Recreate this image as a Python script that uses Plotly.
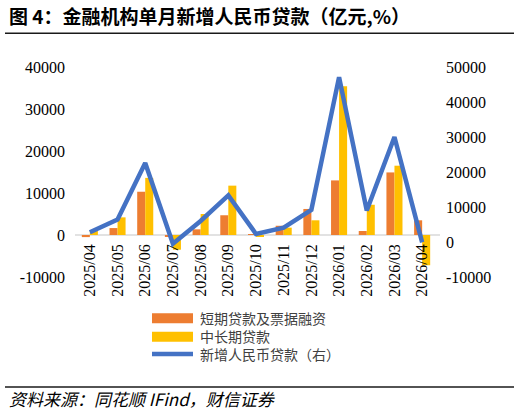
import plotly.graph_objects as go

months = ["2025/04", "2025/05", "2025/06", "2025/07", "2025/08", "2025/09", "2025/10",
          "2025/11", "2025/12", "2026/01", "2026/02", "2026/03", "2026/04"]
short_term = [-500, 1650, 10300, -400, 1350, 4700, 100, 2200, 6200, 13000, 950, 14900, 3500]
mid_long = [1000, 4200, 13600, -3500, 5000, 11750, -300, 1750, 3500, 35400, 7200, 16500, -7200]
new_loans = [2800, 6400, 22600, -500, 6000, 13300, 2300, 4100, 9200, 47100, 9000, 30000, -100]

left_ticks = [-10000, 0, 10000, 20000, 30000, 40000]
right_ticks = [-10000, 0, 10000, 20000, 30000, 40000, 50000]

names = ["短期贷款及票据融资", "中长期贷款", "新增人民币贷款（右）"]
colors = ["#ED7D31", "#FFC000", "#4472C4"]

W, H = 522, 413
L, R, T, B = 76, 86, 67, 136
pw, ph = W - L - R, H - T - B

def px(x):
    return (x - L) / pw

def py(y):
    return (H - B - y) / ph

fig = go.Figure()
fig.add_trace(go.Bar(x=months, y=short_term, name=names[0], marker_color=colors[0],
                     marker_line_width=0, yaxis="y"))
fig.add_trace(go.Bar(x=months, y=mid_long, name=names[1], marker_color=colors[1],
                     marker_line_width=0, yaxis="y"))
fig.add_trace(go.Scatter(x=months, y=new_loans, name=names[2], mode="lines",
                         line=dict(color=colors[2], width=4.5), yaxis="y2"))

tick_font = dict(family="Liberation Serif", size=16, color="#000000")
cjk = "Noto Sans CJK SC"

shapes = [
    # zero axis line
    dict(type="line", xref="paper", yref="y", x0=px(75), x1=px(440), y0=0, y1=0,
         line=dict(color="#D9D9D9", width=1.3), layer="below"),
    # title rule
    dict(type="line", xref="paper", yref="paper", x0=px(5), x1=px(514), y0=py(33.3), y1=py(33.3),
         line=dict(color="#1a1a1a", width=1.4)),
    # source rule
    dict(type="line", xref="paper", yref="paper", x0=px(5), x1=px(514), y0=py(387), y1=py(387),
         line=dict(color="#1a1a1a", width=1.4)),
    # legend symbols
    dict(type="rect", xref="paper", yref="paper", x0=px(152), x1=px(193), y0=py(313.3), y1=py(323.3),
         fillcolor=colors[0], line_width=0),
    dict(type="rect", xref="paper", yref="paper", x0=px(152), x1=px(193), y0=py(331.7), y1=py(341.7),
         fillcolor=colors[1], line_width=0),
    dict(type="line", xref="paper", yref="paper", x0=px(152), x1=px(193), y0=py(354), y1=py(354),
         line=dict(color=colors[2], width=4.5)),
]

annotations = [
    dict(text="<b>图 4：金融机构单月新增人民币贷款（亿元,%）</b>", xref="paper", yref="paper",
         x=px(7), y=py(16), xanchor="left", yanchor="middle", showarrow=False,
         font=dict(family=cjk, size=19, color="#000000")),
    dict(text="资料来源：同花顺 IFind，财信证券", xref="paper", yref="paper",
         x=px(7), y=py(398), xanchor="left", yanchor="middle", showarrow=False,
         font=dict(family=cjk, size=17, color="#000000", style="italic")),
    dict(text="<br>".join(names), xref="paper", yref="paper", x=px(198), y=py(336.3),
         xanchor="left", yanchor="middle", align="left", showarrow=False,
         font=dict(family=cjk, size=14, color="#404040")),
]

fig.update_layout(
    width=W, height=H,
    margin=dict(l=L, r=R, t=T, b=B, autoexpand=False),
    paper_bgcolor="white", plot_bgcolor="white",
    barmode="group", bargap=0.42, bargroupgap=0,
    showlegend=False,
    xaxis=dict(type="category", anchor="free", position=0.2, tickangle=-90,
               showgrid=False, showline=False, zeroline=False, ticks="",
               tickfont=tick_font, ticklabelstandoff=5, automargin=False),
    yaxis=dict(range=[-10000, 40000], tickvals=left_ticks, ticktext=[str(v) for v in left_ticks],
               showgrid=False, zeroline=False, showline=False, ticks="",
               tickfont=tick_font, ticklabelstandoff=10, automargin=False),
    yaxis2=dict(range=[-10000, 50000], tickvals=right_ticks, ticktext=[str(v) for v in right_ticks],
                overlaying="y", side="right", showgrid=False, zeroline=False, showline=False,
                ticks="", tickfont=tick_font, ticklabelstandoff=9, automargin=False),
    shapes=shapes, annotations=annotations,
)

fig.write_html("out.html")
